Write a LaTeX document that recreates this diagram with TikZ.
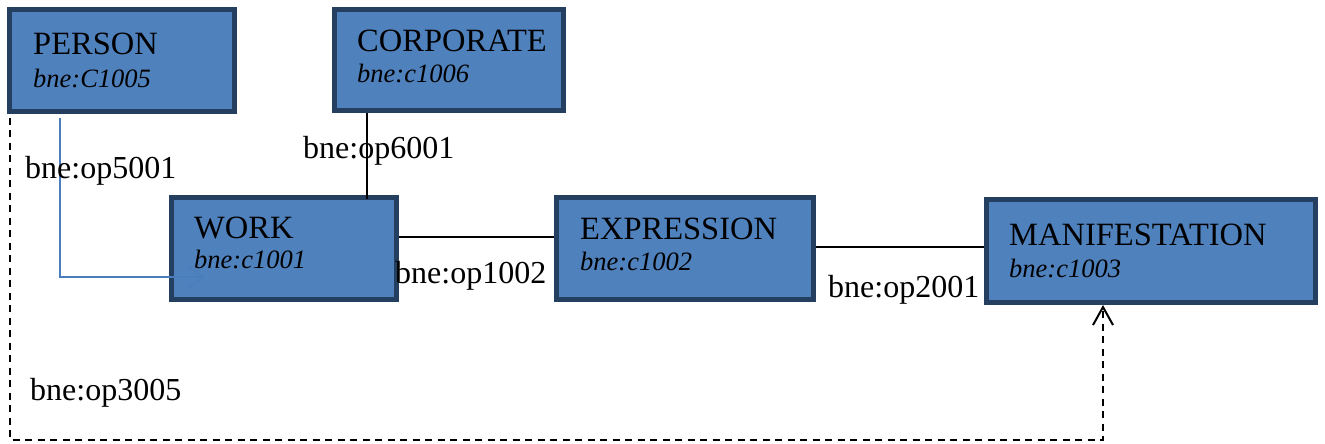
\documentclass[tikz,border=0pt]{standalone}
\usepackage{fontspec}
\setmainfont{Liberation Serif}
\usetikzlibrary{arrows.meta,positioning,calc}
\definecolor{clsFill}{HTML}{4F81BD}
\definecolor{clsLine}{HTML}{243F60}
\definecolor{linkBlue}{HTML}{4A7EBB}

\begin{document}
\begin{tikzpicture}[x=1pt, y=-1pt,
  cls/.style={draw=clsLine,fill=clsFill,line width=5pt,inner sep=0pt,outer sep=0pt,anchor=north west},
  ttl/.style={anchor=base west,inner sep=0pt,font=\fontsize{32.5}{36}\selectfont},
  sub/.style={anchor=base west,inner sep=0pt,font=\fontsize{26.5}{30}\selectfont\itshape},
  prop/.style={anchor=base west,inner sep=0pt,font=\fontsize{32}{36}\selectfont},
  link/.style={line width=1.5pt}]
\useasboundingbox (0,0) rectangle (1325,444);
% --- classes ---
  \node[cls,minimum width=225,minimum height=102] (person) at (9.5,9.5) {};
  \node[cls,minimum width=229,minimum height=101] (corp) at (334.5,9.5) {};
  \node[cls,minimum width=225,minimum height=102] (work) at (171.5,197.5) {};
  \node[cls,minimum width=257,minimum height=102] (expr) at (556.5,197.5) {};
  \node[cls,minimum width=329,minimum height=103] (manif) at (986.5,199.5) {};
  \node[ttl] (personT) at (33,55) {PERSON};
  \node[sub] (personS) at (33,87) {bne:C1005};
  \node[ttl] (corpT) at (357,52) {CORPORATE};
  \node[sub] (corpS) at (357,82) {bne:c1006};
  \node[ttl] (workT) at (194,238) {WORK};
  \node[sub] (workS) at (194,268) {bne:c1001};
  \node[ttl] (exprT) at (580,239) {EXPRESSION};
  \node[sub] (exprS) at (580,270) {bne:c1002};
  \node[ttl] (manifT) at (1009,245) {MANIFESTATION};
  \node[sub] (manifS) at (1009,277) {bne:c1003};
% --- properties ---
  \coordinate (corpfoot) at ([xshift=32.5,yshift=-2.5]corp.south west);
  \draw[link] (corpfoot) -- ([yshift=-1]corpfoot |- work.north);
  \coordinate (workout) at ([xshift=2.5,yshift=11.5]work.east);
  \draw[link] (workout) -- ([xshift=-2.5]workout -| expr.west);
  \coordinate (exprout) at ([xshift=2.5,yshift=1.5]expr.east);
  \draw[link] (exprout) -- ([xshift=-2.5]exprout -| manif.west);
  \coordinate (persfoot) at ([xshift=50.5,yshift=-6]person.south west);
  \coordinate (worktip) at ([xshift=33.5,yshift=22.5]work.south west);
  \draw[linkBlue,line width=1.5pt,-{Straight Barb[length=16pt,width=22pt]}] (persfoot) |- (worktip);
  \coordinate (dashstart) at ([xshift=0.5,yshift=-6]person.south west);
  \coordinate (dashcorner) at (dashstart |- 0,440);
  \coordinate (maniftip) at ([xshift=116.5,yshift=-2.5]manif.south west);
  \draw[line width=2pt,dash pattern=on 7pt off 5.5pt,
    -{Straight Barb[length=18pt,width=20pt,sep=0pt]}] (dashstart) -- (dashcorner) -| (maniftip);
  \node[prop] (op5001) at (25,178) {bne:op5001};
  \node[prop] (op6001) at (303,158) {bne:op6001};
  \node[prop] (op1002) at (395,283) {bne:op1002};
  \node[prop] (op2001) at (828,297) {bne:op2001};
  \node[prop] (op3005) at (30,400) {bne:op3005};
\end{tikzpicture}
\end{document}
